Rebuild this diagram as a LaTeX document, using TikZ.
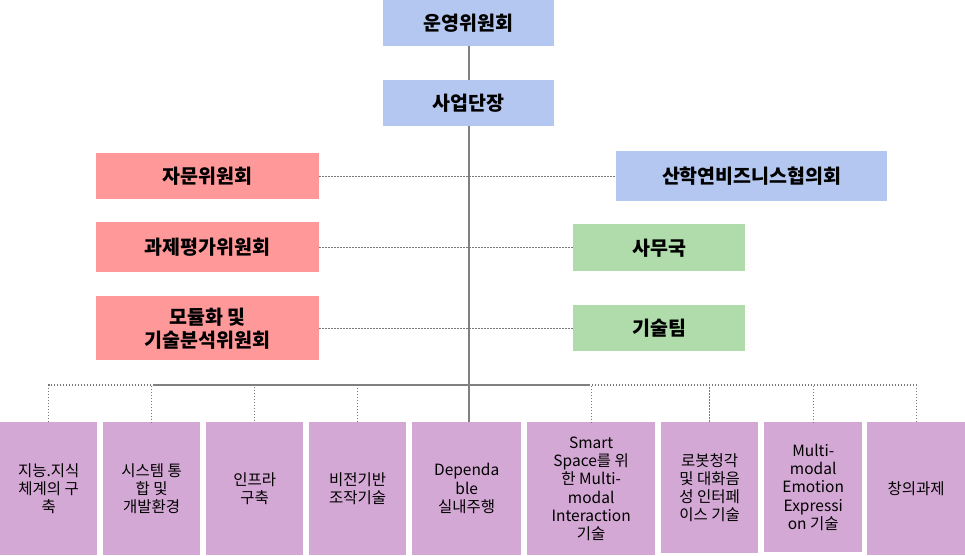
\documentclass[tikz,border=0pt]{standalone}
\usepackage{fontspec}
\setmainfont{Noto Sans CJK KR}
\begin{document}
\begin{tikzpicture}[x=1pt,y=-1pt,
  box/.style={rectangle,inner sep=0pt,anchor=north west,align=center},
  blu/.style={box,fill={rgb,255:red,180;green,199;blue,240}},
  pnk/.style={box,fill={rgb,255:red,255;green,153;blue,153}},
  grn/.style={box,fill={rgb,255:red,176;green,220;blue,172}},
  prp/.style={box,fill={rgb,255:red,212;green,168;blue,212}},
  big/.style={font=\fontsize{19.5}{23}\selectfont\bfseries},
  sml/.style={font=\fontsize{15.5}{18.3}\selectfont},
  solidln/.style={draw={rgb,255:red,128;green,128;blue,128},line width=1.8pt},
  dotln/.style={draw={rgb,255:red,120;green,120;blue,120},line width=1.3pt,dash pattern=on 1.3pt off 1.7pt}]
\useasboundingbox (0,0) rectangle (965,555);
% top
\node[blu,big,minimum width=171pt,minimum height=46pt] (top) at (383,0) {운영위원회};
\node[blu,big,minimum width=171pt,minimum height=46pt] (ceo) at (383,80) {사업단장};
% left
\node[pnk,big,minimum width=223pt,minimum height=46pt] (adv) at (96,153) {자문위원회};
\node[pnk,big,minimum width=223pt,minimum height=50pt] (eval) at (96,222) {과제평가위원회};
\node[pnk,big,minimum width=223pt,minimum height=64pt] (mod) at (96,296) {모듈화 및\\기술분석위원회};
% right
\node[blu,big,minimum width=271pt,minimum height=50pt] (biz) at (616,151) {산학연비즈니스협의회};
\node[grn,big,minimum width=172pt,minimum height=47pt] (off) at (573,224) {사무국};
\node[grn,big,minimum width=172pt,minimum height=46pt] (tech) at (573,305) {기술팀};
% bottom
\node[prp,sml,minimum width=97pt,minimum height=133pt] (b1) at (0,422) {지능.지식\\체계의 구\\축};
\node[prp,sml,minimum width=97pt,minimum height=133pt] (b2) at (103,422) {시스템 통\\합 및\\개발환경};
\node[prp,sml,minimum width=97pt,minimum height=133pt] (b3) at (206,422) {인프라\\구축};
\node[prp,sml,minimum width=97pt,minimum height=133pt] (b4) at (309,422) {비전기반\\조작기술};
\node[prp,sml,minimum width=109pt,minimum height=133pt] (b5) at (412,422) {Dependa\\ble\\실내주행};
\node[prp,sml,minimum width=128pt,minimum height=133pt] (b6) at (527,422) {Smart\\Space를 위\\한 Multi-\\modal\\Interaction\\기술};
\node[prp,sml,minimum width=97pt,minimum height=131pt] (b7) at (661,422) {로봇청각\\및 대화음\\성 인터페\\이스 기술};
\node[prp,sml,minimum width=98pt,minimum height=130pt] (b8) at (764,422) {Multi-\\modal\\Emotion\\Expressi\\on 기술};
\node[prp,sml,minimum width=98pt,minimum height=133pt] (b9) at (867,422) {창의과제};
% connectors
\draw[solidln] (top.south) -- (ceo.north);
\coordinate (hub) at (466,385);
\draw[solidln] (ceo.south) -- (ceo.south |- b5.north);
\draw[dotln] (adv.east) -- (biz.west);
\draw[dotln] (eval.east) -- (eval.east -| off.west);
\draw[dotln] (mod.east) -- (mod.east -| tech.west);
\foreach \b in {b1,b2,b3,b4,b6,b7,b8,b9}{
  \draw[dotln] (hub) -| (\b.north);
}
\coordinate (hl) at (153,385);
\coordinate (hr) at (590,385);
\draw[solidln] (hl) -- (hr);
\end{tikzpicture}
\end{document}
